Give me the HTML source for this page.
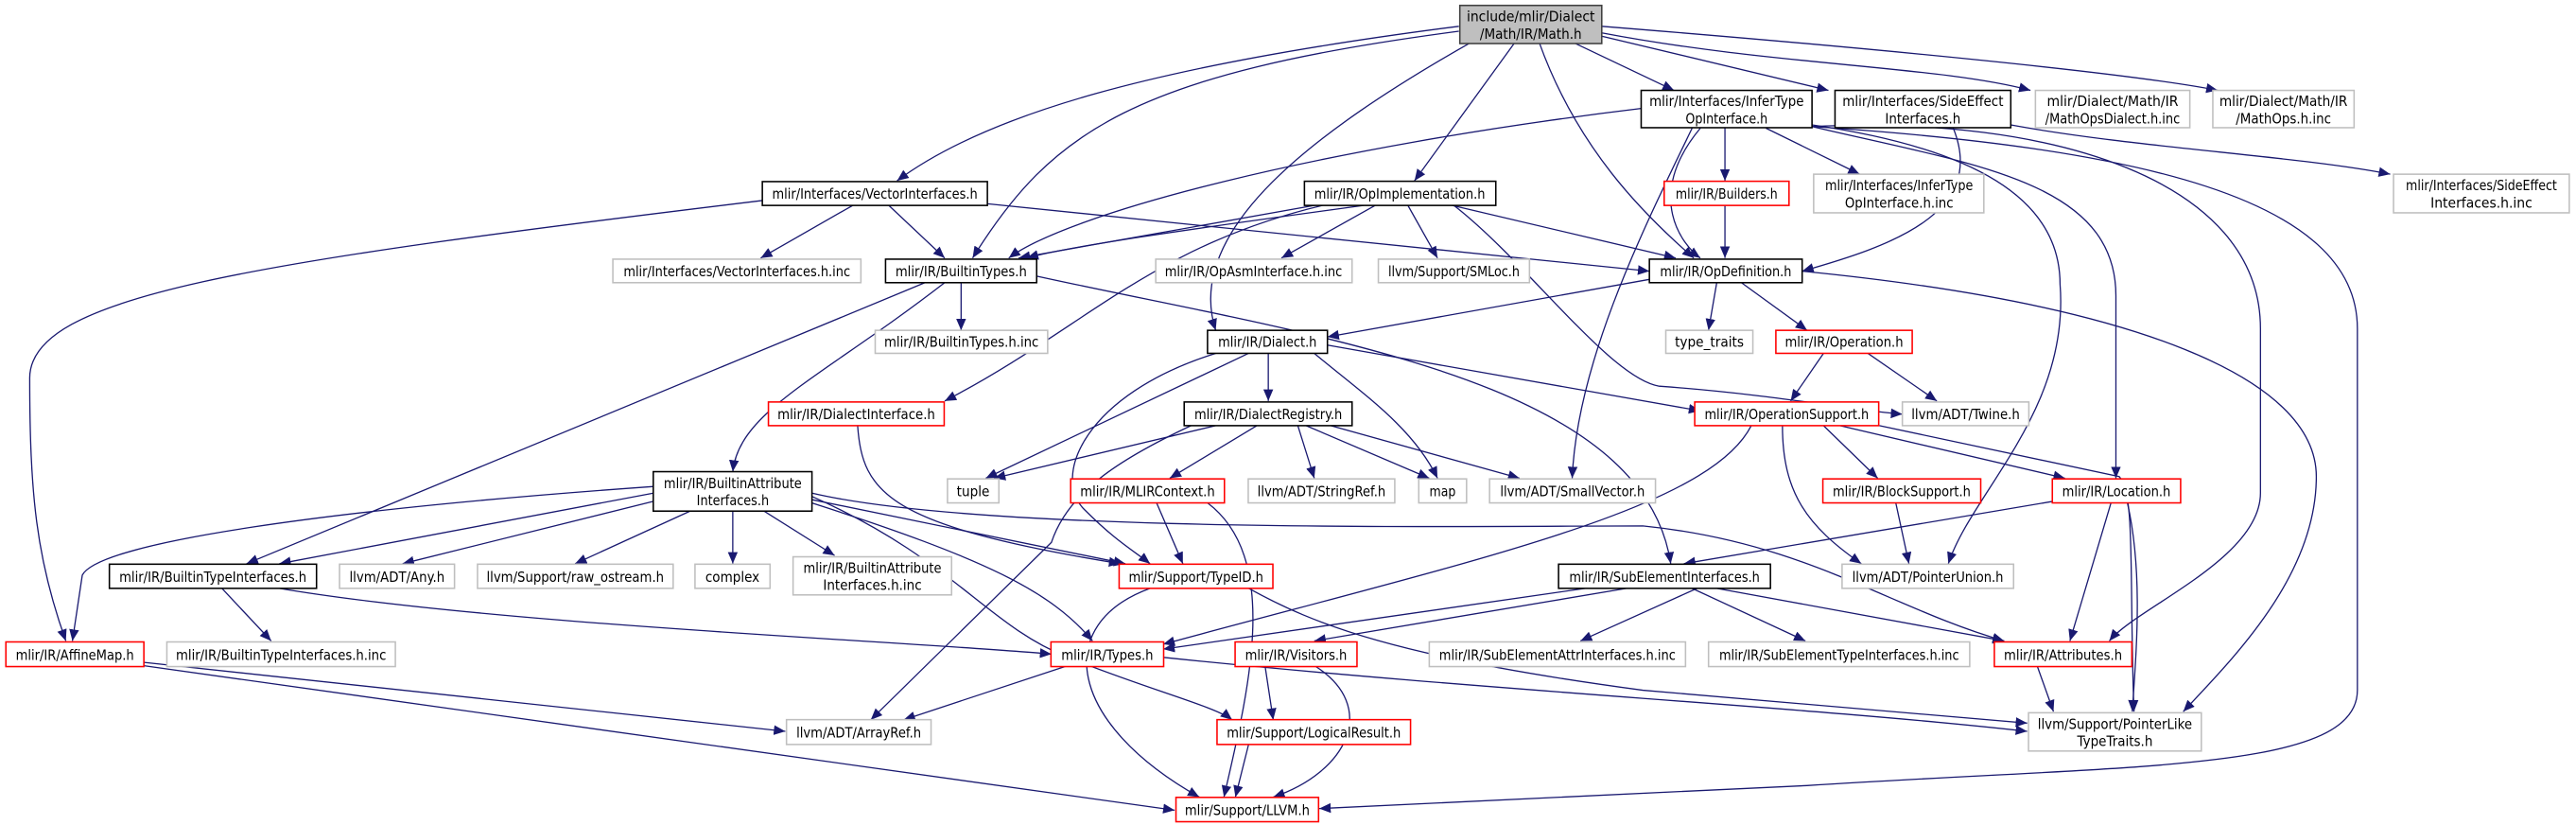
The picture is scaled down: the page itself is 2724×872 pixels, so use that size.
<!DOCTYPE html>
<html><head><meta charset="utf-8"><style>
html,body{margin:0;padding:0;background:#fff;}
svg{display:block;}
text{font-family:"DejaVu Sans","Liberation Sans",sans-serif;font-size:8.6px;fill:#000;text-anchor:middle;}
.e{fill:none;stroke:#191970;stroke-width:0.75;marker-end:url(#a);}
.b{fill:#fff;stroke:#000;stroke-width:0.9;}
.r{fill:#fff;stroke:#f00;stroke-width:0.9;}
.g{fill:#fff;stroke:#bfbfbf;stroke-width:0.9;}
</style></head><body>
<svg width="2724" height="872" viewBox="0 0 1568 502" xmlns="http://www.w3.org/2000/svg">
<defs><marker id="a" markerUnits="userSpaceOnUse" markerWidth="8" markerHeight="8" refX="7" refY="3.5" orient="auto"><path d="M0,0.5 L7,3.5 L0,6.5 z" fill="#191970"/></marker></defs>
<g>
<path class="e" d="M888,16 C700,40 600,70 546,110"/>
<path class="e" d="M888,19 C690,45 640,80 592,157"/>
<path class="e" d="M895,26 C800,80 720,140 740,201"/>
<path class="e" d="M922,26 L861,110"/>
<path class="e" d="M937,26 C960,90 1000,130 1031,157"/>
<path class="e" d="M958,26 L1019,55"/>
<path class="e" d="M975,22 L1113,55"/>
<path class="e" d="M975,20 C1080,40 1180,40 1236,55"/>
<path class="e" d="M975,16 C1150,30 1300,45 1350,55"/>
<path class="e" d="M999,66 C800,90 650,130 614,157"/>
<path class="e" d="M1050,78 L1050,110"/>
<path class="e" d="M1075,78 L1132,106"/>
<path class="e" d="M1035,78 C1000,120 1025,150 1035,157"/>
<path class="e" d="M1030,78 C1000,140 960,220 957,291"/>
<path class="e" d="M1103,76 C1200,90 1254,120 1254,173 C1260,250 1200,300 1186,343"/>
<path class="e" d="M1103,77 C1200,100 1288,110 1288,180 L1288,291"/>
<path class="e" d="M1103,77 C1250,70 1376,110 1376,200 L1376,300 C1376,340 1300,370 1284,390"/>
<path class="e" d="M1103,77 C1300,90 1435,120 1435,200 L1435,420 C1435,470 1300,465 1100,478 L803,492"/>
<path class="e" d="M1189,78 C1210,130 1150,150 1097,165"/>
<path class="e" d="M1224,76 C1300,90 1400,95 1455,106"/>
<path class="e" d="M519,125 L463,157"/>
<path class="e" d="M541,125 L575,157"/>
<path class="e" d="M601,124 L1004,165"/>
<path class="e" d="M464,122 C150,160 18,180 18,230 C18,300 22,340 40,390"/>
<path class="e" d="M800,125 L620,157"/>
<path class="e" d="M830,125 C720,140 650,150 625,157"/>
<path class="e" d="M837,125 L780,157"/>
<path class="e" d="M857,125 L875,157"/>
<path class="e" d="M884,125 L1020,157"/>
<path class="e" d="M805,125 C700,150 660,200 575,244"/>
<path class="e" d="M885,125 C930,160 980,230 1010,235 C1080,240 1130,250 1158,252"/>
<path class="e" d="M1050,125 L1050,157"/>
<path class="e" d="M585,172 L585,201"/>
<path class="e" d="M563,172 L150,343"/>
<path class="e" d="M575,172 C500,230 450,250 446,287"/>
<path class="e" d="M631,168 C800,205 1000,230 1017,343"/>
<path class="e" d="M1004,170 L808,205"/>
<path class="e" d="M1045,172 L1040,201"/>
<path class="e" d="M1060,172 L1100,201"/>
<path class="e" d="M1097,165 C1300,185 1410,230 1410,290 C1410,350 1360,400 1329,433"/>
<path class="e" d="M772,215 L772,244"/>
<path class="e" d="M808,210 L1035,250"/>
<path class="e" d="M760,215 L600,291"/>
<path class="e" d="M800,215 C830,240 860,260 875,291"/>
<path class="e" d="M740,215 C660,240 640,290 660,310 C680,330 690,335 700,343"/>
<path class="e" d="M1110,215 L1090,244"/>
<path class="e" d="M1137,215 L1179,244"/>
<path class="e" d="M522,259 C525,300 540,320 682,343"/>
<path class="e" d="M740,259 L605,291"/>
<path class="e" d="M765,259 L712,291"/>
<path class="e" d="M790,259 L800,291"/>
<path class="e" d="M795,259 L870,291"/>
<path class="e" d="M810,259 L925,291"/>
<path class="e" d="M725,259 C680,280 650,300 640,330 L530,438"/>
<path class="e" d="M1110,259 L1143,291"/>
<path class="e" d="M1120,259 L1257,291"/>
<path class="e" d="M1085,259 C1085,300 1100,320 1133,343"/>
<path class="e" d="M1144,259 L1290,290 C1300,300 1296,350 1299,433"/>
<path class="e" d="M1066,259 C1040,310 900,340 708,392"/>
<path class="e" d="M398,300 L170,343"/>
<path class="e" d="M398,305 L245,343"/>
<path class="e" d="M420,311 L350,343"/>
<path class="e" d="M446,311 L446,343"/>
<path class="e" d="M465,311 L508,338"/>
<path class="e" d="M398,296 C200,310 60,330 50,350 L44,390"/>
<path class="e" d="M494,306 C600,340 640,360 665,390"/>
<path class="e" d="M494,304 L685,343"/>
<path class="e" d="M494,302 C580,340 600,380 650,400 C700,420 740,430 750,438"/>
<path class="e" d="M494,300 C600,325 900,320 1000,320 C1100,330 1150,370 1220,390"/>
<path class="e" d="M704,306 L720,343"/>
<path class="e" d="M735,306 C780,340 760,420 745,485"/>
<path class="e" d="M700,358 C640,380 650,440 730,485"/>
<path class="e" d="M760,358 C800,380 850,400 1000,420 L1234,440"/>
<path class="e" d="M1154,306 L1162,343"/>
<path class="e" d="M1250,305 L1025,343"/>
<path class="e" d="M1285,306 L1260,390"/>
<path class="e" d="M1295,306 C1305,350 1300,400 1298,433"/>
<path class="e" d="M135,358 L165,390"/>
<path class="e" d="M170,358 C300,380 550,390 640,398"/>
<path class="e" d="M965,358 L708,395"/>
<path class="e" d="M990,358 L800,390"/>
<path class="e" d="M1033,358 L962,390"/>
<path class="e" d="M1030,358 L1099,390"/>
<path class="e" d="M1045,358 L1220,390"/>
<path class="e" d="M87,403 L478,445"/>
<path class="e" d="M87,405 L715,493"/>
<path class="e" d="M650,405 L550,438"/>
<path class="e" d="M708,400 C900,420 1100,430 1234,445"/>
<path class="e" d="M770,405 L775,438"/>
<path class="e" d="M800,405 C840,430 820,470 775,485"/>
<path class="e" d="M1240,405 L1250,433"/>
<path class="e" d="M760,453 L752,485"/>
</g>
<g>
<rect x="888.6" y="3.3" width="86.4" height="23.2" fill="#bfbfbf" stroke="#404040" stroke-width="0.9"/>
<text x="931.8" y="13" textLength="78" lengthAdjust="spacingAndGlyphs">include/mlir/Dialect</text>
<text x="931.8" y="23.5" textLength="62" lengthAdjust="spacingAndGlyphs">/Math/IR/Math.h</text>

<rect class="b" x="999" y="55" width="104" height="22.7"/>
<text x="1051" y="64.5" textLength="94" lengthAdjust="spacingAndGlyphs">mlir/Interfaces/InferType</text>
<text x="1051" y="75" textLength="50" lengthAdjust="spacingAndGlyphs">OpInterface.h</text>
<rect class="b" x="1117" y="55" width="107" height="22.7"/>
<text x="1170.5" y="64.5" textLength="98" lengthAdjust="spacingAndGlyphs">mlir/Interfaces/SideEffect</text>
<text x="1170.5" y="75" textLength="46" lengthAdjust="spacingAndGlyphs">Interfaces.h</text>
<rect class="g" x="1239" y="55" width="94" height="22.7"/>
<text x="1286" y="64.5" textLength="80" lengthAdjust="spacingAndGlyphs">mlir/Dialect/Math/IR</text>
<text x="1286" y="75" textLength="82" lengthAdjust="spacingAndGlyphs">/MathOpsDialect.h.inc</text>
<rect class="g" x="1347" y="55" width="86" height="22.7"/>
<text x="1390" y="64.5" textLength="78" lengthAdjust="spacingAndGlyphs">mlir/Dialect/Math/IR</text>
<text x="1390" y="75" textLength="58" lengthAdjust="spacingAndGlyphs">/MathOps.h.inc</text>

<rect class="b" x="464" y="110.5" width="137" height="14.5"/><text x="532.5" y="121" textLength="125" lengthAdjust="spacingAndGlyphs">mlir/Interfaces/VectorInterfaces.h</text>
<rect class="b" x="794" y="110.3" width="116.5" height="14.7"/><text x="852" y="121" textLength="104" lengthAdjust="spacingAndGlyphs">mlir/IR/OpImplementation.h</text>
<rect class="r" x="1013" y="110.3" width="76" height="14.7"/><text x="1051" y="121" textLength="62" lengthAdjust="spacingAndGlyphs">mlir/IR/Builders.h</text>
<rect class="g" x="1104" y="106" width="103.6" height="23.5"/>
<text x="1156" y="115.8" textLength="90" lengthAdjust="spacingAndGlyphs">mlir/Interfaces/InferType</text>
<text x="1156" y="126.3" textLength="66" lengthAdjust="spacingAndGlyphs">OpInterface.h.inc</text>
<rect class="g" x="1457" y="106" width="107" height="23.5"/>
<text x="1510.5" y="115.8" textLength="92" lengthAdjust="spacingAndGlyphs">mlir/Interfaces/SideEffect</text>
<text x="1510.5" y="126.3" textLength="62" lengthAdjust="spacingAndGlyphs">Interfaces.h.inc</text>

<rect class="g" x="373" y="157.7" width="151" height="14.3"/><text x="448.5" y="168" textLength="138" lengthAdjust="spacingAndGlyphs">mlir/Interfaces/VectorInterfaces.h.inc</text>
<rect class="b" x="539" y="157.7" width="92" height="14.3"/><text x="585" y="168" textLength="80" lengthAdjust="spacingAndGlyphs">mlir/IR/BuiltinTypes.h</text>
<rect class="g" x="703.5" y="157.7" width="119.5" height="14.3"/><text x="763" y="168" textLength="108" lengthAdjust="spacingAndGlyphs">mlir/IR/OpAsmInterface.h.inc</text>
<rect class="g" x="839" y="157.7" width="92" height="14.3"/><text x="885" y="168" textLength="80" lengthAdjust="spacingAndGlyphs">llvm/Support/SMLoc.h</text>
<rect class="b" x="1004" y="157.7" width="93" height="14.3"/><text x="1050.5" y="168" textLength="80" lengthAdjust="spacingAndGlyphs">mlir/IR/OpDefinition.h</text>

<rect class="g" x="532.7" y="201" width="105" height="14"/><text x="585.2" y="211" textLength="94" lengthAdjust="spacingAndGlyphs">mlir/IR/BuiltinTypes.h.inc</text>
<rect class="b" x="735" y="201" width="73" height="14"/><text x="771.5" y="211" textLength="60" lengthAdjust="spacingAndGlyphs">mlir/IR/Dialect.h</text>
<rect class="g" x="1014" y="201" width="53" height="14"/><text x="1040.5" y="211" textLength="42" lengthAdjust="spacingAndGlyphs">type_traits</text>
<rect class="r" x="1081" y="201" width="83" height="14"/><text x="1122.5" y="211" textLength="72" lengthAdjust="spacingAndGlyphs">mlir/IR/Operation.h</text>

<rect class="r" x="467.7" y="244.6" width="107" height="14.4"/><text x="521.2" y="255" textLength="96" lengthAdjust="spacingAndGlyphs">mlir/IR/DialectInterface.h</text>
<rect class="b" x="720.8" y="244.6" width="102.2" height="14.4"/><text x="772" y="255" textLength="90" lengthAdjust="spacingAndGlyphs">mlir/IR/DialectRegistry.h</text>
<rect class="r" x="1031.6" y="244.6" width="112" height="14.4"/><text x="1087.6" y="255" textLength="100" lengthAdjust="spacingAndGlyphs">mlir/IR/OperationSupport.h</text>
<rect class="g" x="1158" y="244.6" width="77" height="14.4"/><text x="1196.5" y="255" textLength="66" lengthAdjust="spacingAndGlyphs">llvm/ADT/Twine.h</text>

<rect class="b" x="397.6" y="287" width="96.6" height="24"/>
<text x="446" y="297" textLength="84" lengthAdjust="spacingAndGlyphs">mlir/IR/BuiltinAttribute</text>
<text x="446" y="307.5" textLength="44" lengthAdjust="spacingAndGlyphs">Interfaces.h</text>
<rect class="g" x="576.7" y="291.4" width="31.3" height="14.6"/><text x="592.3" y="302" textLength="20" lengthAdjust="spacingAndGlyphs">tuple</text>
<rect class="r" x="651.7" y="291.4" width="93.6" height="14.6"/><text x="698.5" y="302" textLength="82" lengthAdjust="spacingAndGlyphs">mlir/IR/MLIRContext.h</text>
<rect class="g" x="759.8" y="291.4" width="89.2" height="14.6"/><text x="804.4" y="302" textLength="78" lengthAdjust="spacingAndGlyphs">llvm/ADT/StringRef.h</text>
<rect class="g" x="863.6" y="291.4" width="29.1" height="14.6"/><text x="878.1" y="302" textLength="16" lengthAdjust="spacingAndGlyphs">map</text>
<rect class="g" x="906.7" y="291.4" width="101" height="14.6"/><text x="957.2" y="302" textLength="88" lengthAdjust="spacingAndGlyphs">llvm/ADT/SmallVector.h</text>
<rect class="r" x="1109.6" y="291.4" width="96.1" height="14.6"/><text x="1157.6" y="302" textLength="84" lengthAdjust="spacingAndGlyphs">mlir/IR/BlockSupport.h</text>
<rect class="r" x="1249.3" y="291.4" width="78.1" height="14.6"/><text x="1288.3" y="302" textLength="66" lengthAdjust="spacingAndGlyphs">mlir/IR/Location.h</text>

<rect class="b" x="66.5" y="343.3" width="126.1" height="14.7"/><text x="129.5" y="354" textLength="114" lengthAdjust="spacingAndGlyphs">mlir/IR/BuiltinTypeInterfaces.h</text>
<rect class="g" x="206.6" y="343.3" width="70" height="14.7"/><text x="241.6" y="354" textLength="58" lengthAdjust="spacingAndGlyphs">llvm/ADT/Any.h</text>
<rect class="g" x="290.6" y="343.3" width="119.1" height="14.7"/><text x="350.1" y="354" textLength="108" lengthAdjust="spacingAndGlyphs">llvm/Support/raw_ostream.h</text>
<rect class="g" x="423" y="343.3" width="45.7" height="14.7"/><text x="445.8" y="354" textLength="33" lengthAdjust="spacingAndGlyphs">complex</text>
<rect class="g" x="482.7" y="338.8" width="96.5" height="23.2"/>
<text x="531" y="348.5" textLength="84" lengthAdjust="spacingAndGlyphs">mlir/IR/BuiltinAttribute</text>
<text x="531" y="359" textLength="60" lengthAdjust="spacingAndGlyphs">Interfaces.h.inc</text>
<rect class="r" x="681.2" y="343.3" width="93.6" height="14.7"/><text x="728" y="354" textLength="82" lengthAdjust="spacingAndGlyphs">mlir/Support/TypeID.h</text>
<rect class="b" x="948.7" y="343.3" width="129" height="14.7"/><text x="1013.2" y="354" textLength="116" lengthAdjust="spacingAndGlyphs">mlir/IR/SubElementInterfaces.h</text>
<rect class="g" x="1121.3" y="343.3" width="104.4" height="14.7"/><text x="1173.5" y="354" textLength="92" lengthAdjust="spacingAndGlyphs">llvm/ADT/PointerUnion.h</text>

<rect class="r" x="3.5" y="390.6" width="84" height="15"/><text x="45.5" y="401.5" textLength="72" lengthAdjust="spacingAndGlyphs">mlir/IR/AffineMap.h</text>
<rect class="g" x="101.5" y="390.6" width="139.1" height="15"/><text x="171" y="401.5" textLength="128" lengthAdjust="spacingAndGlyphs">mlir/IR/BuiltinTypeInterfaces.h.inc</text>
<rect class="r" x="639.7" y="390.6" width="68.6" height="15"/><text x="674" y="401.5" textLength="56" lengthAdjust="spacingAndGlyphs">mlir/IR/Types.h</text>
<rect class="r" x="751.8" y="390.6" width="74.2" height="15"/><text x="788.9" y="401.5" textLength="62" lengthAdjust="spacingAndGlyphs">mlir/IR/Visitors.h</text>
<rect class="g" x="870" y="390.6" width="156" height="15"/><text x="948" y="401.5" textLength="144" lengthAdjust="spacingAndGlyphs">mlir/IR/SubElementAttrInterfaces.h.inc</text>
<rect class="g" x="1040" y="390.6" width="159" height="15"/><text x="1119.5" y="401.5" textLength="146" lengthAdjust="spacingAndGlyphs">mlir/IR/SubElementTypeInterfaces.h.inc</text>
<rect class="r" x="1214" y="390.6" width="83.7" height="15"/><text x="1255.8" y="401.5" textLength="72" lengthAdjust="spacingAndGlyphs">mlir/IR/Attributes.h</text>

<rect class="g" x="478.7" y="437.9" width="88" height="15.1"/><text x="522.7" y="448.7" textLength="76" lengthAdjust="spacingAndGlyphs">llvm/ADT/ArrayRef.h</text>
<rect class="r" x="740.8" y="437.9" width="117.8" height="15.1"/><text x="799.7" y="448.7" textLength="106" lengthAdjust="spacingAndGlyphs">mlir/Support/LogicalResult.h</text>
<rect class="g" x="1234.8" y="433.7" width="105.2" height="23.3"/>
<text x="1287.4" y="443.5" textLength="94" lengthAdjust="spacingAndGlyphs">llvm/Support/PointerLike</text>
<text x="1287.4" y="454" textLength="46" lengthAdjust="spacingAndGlyphs">TypeTraits.h</text>
<rect class="r" x="715.8" y="485.2" width="86.8" height="14.8"/><text x="759.2" y="496" textLength="76" lengthAdjust="spacingAndGlyphs">mlir/Support/LLVM.h</text>
</g>
</svg>
</body></html>
